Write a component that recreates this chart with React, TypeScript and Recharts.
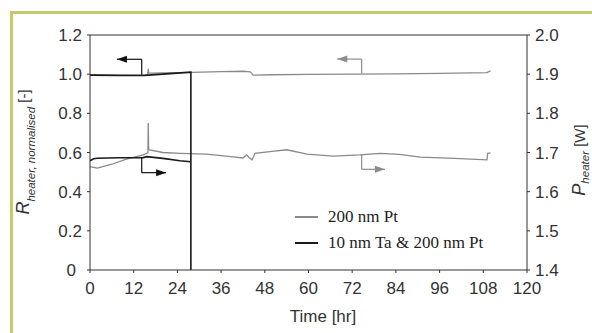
import { LineChart, Line, XAxis, YAxis, ReferenceLine, ReferenceDot, Legend } from 'recharts'

const timeTicks = [0, 12, 24, 36, 48, 60, 72, 84, 96, 108, 120]
const resistanceTicks = [0, 0.2, 0.4, 0.6, 0.8, 1.0, 1.2]
const powerTicks = [1.4, 1.5, 1.6, 1.7, 1.8, 1.9, 2.0]
const legendOrder = ['200 nm Pt', '10 nm Ta & 200 nm Pt']

// [time hr, value]
const ptResistance = [
  [0, 0.997], [15.8, 0.995], [16, 1.027], [16.1, 1.005], [20, 1.006], [28, 1.009],
  [36, 1.013], [42, 1.015], [44, 1.012], [44.8, 0.995], [50, 0.997], [60, 0.999],
  [72, 1.0], [84, 1.002], [96, 1.004], [109, 1.008], [110, 1.017],
]
const ptPower = [
  [0, 1.664], [2, 1.66], [6, 1.67], [10, 1.683], [14.6, 1.694], [15.9, 1.699],
  [16, 1.775], [16.1, 1.707], [20, 1.7], [24.7, 1.698], [32, 1.696], [38, 1.69],
  [42, 1.686], [43, 1.694], [43.6, 1.688], [44.5, 1.681], [45.3, 1.698], [50, 1.703],
  [54, 1.707], [59.6, 1.696], [66.8, 1.691], [74, 1.694], [79.7, 1.698], [85, 1.695],
  [90.7, 1.688], [100, 1.685], [109, 1.681], [109.2, 1.698], [110, 1.699],
]
const taResistance = [
  [0, 0.995], [8, 0.993], [15, 0.994], [20, 1.0], [27.7, 1.01], [27.7, 0],
]
const taPower = [
  [0, 1.679], [1, 1.684], [2, 1.6855], [8, 1.6865], [14.6, 1.687], [15.6, 1.6895],
  [20, 1.685], [24.7, 1.679], [27.7, 1.6765],
]

// annotation arrows on the left axis: stem x, stem start, corner y, arrow tip x
const arrows = [
  { x: 14.2, from: 0.997, corner: 1.076, tip: 7.4, color: '#111' },
  { x: 14.2, from: 0.575, corner: 0.497, tip: 20.9, color: '#111' },
  { x: 74.6, from: 1.003, corner: 1.077, tip: 67.9, color: '#8c8c8c' },
  { x: 74.6, from: 0.588, corner: 0.514, tip: 81, color: '#8c8c8c' },
]

const toPoints = (rows: number[][]) => rows.map(([t, v]) => ({ t, v }))

const GRAY = '#8a8a8a'
const BLACK = '#1a1a1a'
const AXIS = '#333'
const SANS = '"Liberation Sans", Arial, sans-serif'
const SERIF = '"Liberation Serif", "Times New Roman", serif'

const LeftTick = ({ x, y, payload }: any) => {
  const v = payload.value
  return (
    <text x={v === 0 ? x - 6 : x} y={y} dy="0.355em" textAnchor="end" fontSize={17} fontFamily={SANS} fill={AXIS}>
      {v === 0 ? '0' : v.toFixed(1)}
    </text>
  )
}

const renderLegend = ({ payload }: any) => {
  const items = (payload || [])
    .filter((p: any) => legendOrder.includes(p.value))
    .sort((a: any, b: any) => legendOrder.indexOf(a.value) - legendOrder.indexOf(b.value))
  return (
    <div style={{ fontFamily: SERIF, fontSize: 17, color: '#222' }}>
      {items.map((p: any) => (
        <div key={p.value} style={{ display: 'flex', alignItems: 'center', height: 26 }}>
          <span style={{ display: 'inline-block', width: 23, height: 1.5, background: p.color, marginRight: 10 }} />
          <span>{p.value}</span>
        </div>
      ))}
    </div>
  )
}

const arrowHead = (color: string, dir: number) => (p: any) => (
  <path
    d={`M${p.cx},${p.cy} L${p.cx - dir * 10},${p.cy - 3.5} L${p.cx - dir * 10},${p.cy + 3.5} Z`}
    fill={color}
  />
)

export default function App() {
  return (
    <div style={{ position: 'absolute', left: 0, top: 0, width: 592, height: 333, overflow: 'hidden', background: '#fff' }}>
      <div
        style={{
          position: 'absolute', left: 10, top: 11, width: 700, height: 400,
          borderLeft: '3px solid #c6ca6c', borderTop: '3px solid #c6ca6c',
        }}
      />
      <div style={{ position: 'absolute', left: 0, top: 0 }}>
        <LineChart width={592} height={333} margin={{ top: 35, right: 20, left: 30, bottom: 33 }}>
          <XAxis
            type="number"
            dataKey="t"
            domain={[0, 120]}
            ticks={timeTicks}
            height={30}
            tickSize={3}
            tickMargin={9}
            tick={{ fontSize: 17, fontFamily: SANS, fill: AXIS }}
            stroke={AXIS}
            allowDuplicatedCategory={false}
            label={{
              content: () => (
                <text x={323} y={322} textAnchor="middle" fontSize={17} fontFamily={SANS} fill={AXIS}>
                  Time [hr]
                </text>
              ),
            }}
          />
          <YAxis
            yAxisId="left"
            domain={[0, 1.2]}
            ticks={resistanceTicks}
            width={60}
            tickSize={3}
            tickMargin={5}
            tick={<LeftTick />}
            stroke={AXIS}
            label={{
              content: () => (
                <text transform="translate(29,152) rotate(-90)" textAnchor="middle" fontFamily={SANS} fill={AXIS}>
                  <tspan fontSize={18} fontStyle="italic">R</tspan>
                  <tspan fontSize={11.5} fontStyle="italic" dy={6}>heater, normalised</tspan>
                  <tspan fontSize={15} dy={-6}> [-]</tspan>
                </text>
              ),
            }}
          />
          <YAxis
            yAxisId="right"
            orientation="right"
            domain={[1.4, 2.0]}
            ticks={powerTicks}
            width={45}
            tickSize={3}
            tickMargin={5}
            tickFormatter={(v: number) => v.toFixed(1)}
            tick={{ fontSize: 17, fontFamily: SANS, fill: AXIS }}
            stroke={AXIS}
            label={{
              content: () => (
                <text transform="translate(585,160) rotate(-90)" textAnchor="middle" fontFamily={SANS} fill={AXIS}>
                  <tspan fontSize={18} fontStyle="italic">P</tspan>
                  <tspan fontSize={11.5} fontStyle="italic" dy={4}>heater</tspan>
                  <tspan fontSize={15} dy={-4}> [W]</tspan>
                </text>
              ),
            }}
          />
          <ReferenceLine yAxisId="left" y={1.2} stroke={AXIS} strokeWidth={1} />

          <Line yAxisId="left" data={toPoints(ptResistance)} dataKey="v" name="200 nm Pt R" stroke={GRAY} strokeWidth={1.3} dot={false} legendType="none" isAnimationActive={false} />
          <Line yAxisId="right" data={toPoints(ptPower)} dataKey="v" name="200 nm Pt" stroke={GRAY} strokeWidth={1.3} dot={false} isAnimationActive={false} />
          <Line yAxisId="left" data={toPoints(taResistance)} dataKey="v" name="10 nm Ta R" stroke={BLACK} strokeWidth={1.6} dot={false} legendType="none" isAnimationActive={false} />
          <Line yAxisId="right" data={toPoints(taPower)} dataKey="v" name="10 nm Ta & 200 nm Pt" stroke={BLACK} strokeWidth={1.6} dot={false} isAnimationActive={false} />

          {arrows.map((a, i) => (
            <ReferenceLine
              key={`s${i}`}
              yAxisId="left"
              segment={[{ x: a.x, y: a.from }, { x: a.x, y: a.corner }]}
              stroke={a.color}
              strokeWidth={1.2}
            />
          ))}
          {arrows.map((a, i) => (
            <ReferenceLine
              key={`h${i}`}
              yAxisId="left"
              segment={[{ x: a.x, y: a.corner }, { x: a.tip, y: a.corner }]}
              stroke={a.color}
              strokeWidth={1.2}
            />
          ))}
          {arrows.map((a, i) => (
            <ReferenceDot
              key={`d${i}`}
              yAxisId="left"
              x={a.tip}
              y={a.corner}
              r={4}
              shape={arrowHead(a.color, a.tip < a.x ? -1 : 1)}
            />
          ))}

          <Legend
            layout="vertical"
            align="center"
            verticalAlign="middle"
            content={renderLegend}
            wrapperStyle={{ top: 204, left: 295, width: 220 }}
          />
        </LineChart>
      </div>
    </div>
  )
}
